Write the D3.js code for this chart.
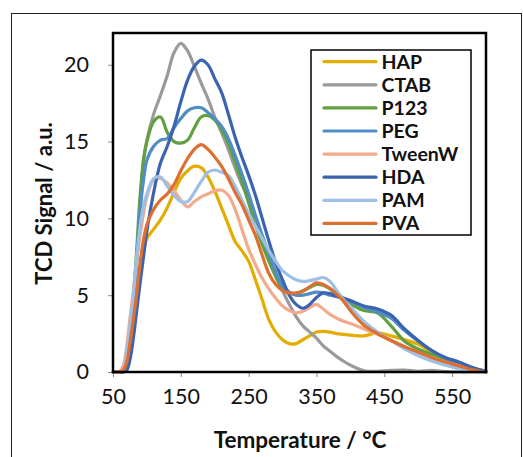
<!DOCTYPE html>
<html><head><meta charset="utf-8">
<script src="https://cdn.jsdelivr.net/npm/d3@7"></script>
<style>body{margin:0;background:#fff}svg{display:block}</style>
</head><body>
<svg id="c" width="523" height="457"></svg>
<script>
const temps = [50,60,65,70,75,80,85,90,95,100,110,120,130,140,150,160,170,180,190,200,210,220,230,240,250,260,270,280,290,300,310,320,330,340,350,360,370,380,390,400,420,440,460,480,500,520,540,560,580,600];
const HAP   = [0,0,0,0.2,1.0,2.5,4.5,6.5,7.8,8.7,9.3,9.9,10.7,11.7,12.6,13.1,13.4,13.3,12.7,11.8,10.7,9.6,8.5,7.9,7.2,6.0,4.7,3.4,2.6,2.1,1.85,1.85,2.1,2.35,2.6,2.65,2.6,2.5,2.45,2.4,2.35,2.55,2.35,2.1,1.8,1.3,0.85,0.5,0.2,0];
const CTAB  = [0,0,0.05,0.8,2.8,4.6,7.0,11.0,13.8,15.1,16.8,18.0,19.3,20.8,21.4,20.9,19.9,18.8,17.8,16.6,15.6,14.5,13.3,12.2,11.3,10.0,8.8,7.6,6.4,5.3,4.4,3.6,3.0,2.6,2.2,1.7,1.35,1.0,0.7,0.45,0.08,0.05,0.1,0.12,0.05,0.1,0.03,0,0,0];
const P123  = [0,0,0.05,0.7,2.5,4.8,8.0,11.5,13.8,15.0,16.3,16.6,15.6,15.0,14.9,15.1,15.9,16.6,16.7,16.4,15.8,14.9,13.7,12.4,11.0,9.6,8.3,7.2,6.2,5.4,5.15,5.1,5.3,5.5,5.7,5.65,5.4,5.1,4.8,4.45,4.0,3.85,3.0,2.0,1.5,1.15,0.85,0.55,0.25,0];
const PEG   = [0,0,0.05,0.6,2.2,4.4,7.5,10.5,12.5,13.8,14.7,15.1,15.2,15.9,16.5,17.0,17.2,17.2,16.9,16.5,16.0,15.2,14.1,12.9,11.6,10.2,8.9,7.7,6.5,5.6,5.2,5.0,5.0,5.1,5.2,5.15,5.0,4.9,4.75,4.6,4.2,3.9,3.5,2.7,2.0,1.4,0.9,0.55,0.25,0.05];
const TweenW= [0,0.05,0.4,1.6,3.5,5.3,7.3,8.9,10.3,11.4,12.5,12.6,12.3,11.8,11.2,10.75,11.1,11.4,11.6,11.8,11.85,11.5,10.6,9.3,8.0,7.0,6.1,5.4,4.8,4.3,4.0,3.85,3.95,4.2,4.4,4.1,3.75,3.5,3.3,3.15,2.8,2.45,2.05,1.65,1.2,0.9,0.65,0.4,0.15,0];
const HDA   = [0,0,0,0.1,0.8,2.2,4.0,5.8,7.5,9.2,11.7,13.6,14.7,16.0,17.6,19.0,19.9,20.3,20.0,19.1,18.2,16.8,15.3,14.0,12.8,11.5,10.0,8.5,7.1,6.0,5.0,4.4,4.15,4.4,4.85,5.15,5.1,4.95,4.8,4.65,4.3,4.1,3.7,2.8,2.05,1.4,0.95,0.65,0.3,0.05];
const PAM   = [0,0,0.1,1.2,3.0,5.0,7.5,9.5,10.8,11.6,12.6,12.7,12.1,11.5,11.1,11.1,11.7,12.4,13.0,13.15,13.0,12.8,12.1,11.2,10.3,9.5,8.7,7.9,7.2,6.6,6.25,6.0,5.9,5.95,6.05,6.15,5.9,5.3,4.7,4.25,3.3,2.6,2.05,1.5,1.05,0.72,0.45,0.22,0.05,0];
const PVA   = [0,0,0.1,0.6,1.9,3.4,5.1,7.1,8.6,9.6,10.6,11.2,11.6,12.2,13.1,13.9,14.5,14.8,14.5,14.0,13.4,12.6,11.7,10.9,9.9,8.9,7.6,6.4,5.7,5.3,5.15,5.15,5.25,5.55,5.8,5.7,5.45,5.05,4.6,4.0,3.05,2.5,2.05,1.65,1.3,0.95,0.65,0.4,0.15,0];
const seriesNames = ["HAP","CTAB","P123","PEG","TweenW","HDA","PAM","PVA"];
const seriesValues = [HAP,CTAB,P123,PEG,TweenW,HDA,PAM,PVA];
const colors = ["#E3AC00","#9A9A9A","#62A03F","#4F8DC4","#F4AA8C","#3C63B1","#9DC0E6","#DD7030"];
const xTicks = [50,150,250,350,450,550];
const yTicks = [0,5,10,15,20];

const svg = d3.select("#c");
const L=113, R=486, T=33, B=372;
const x = d3.scaleLinear().domain([50,600]).range([L,R]);
const y = d3.scaleLinear().domain([0,22.07]).range([B,T]);
const FONT = "Lato, 'Open Sans', sans-serif";

svg.append("rect").attr("x",11.5).attr("y",13.5).attr("width",510).attr("height",500)
  .attr("fill","none").attr("stroke","#222").attr("stroke-width",1);

// axes
const xa = svg.append("g").attr("transform",`translate(0,${B})`)
  .call(d3.axisBottom(x).tickValues(xTicks).tickSize(5).tickPadding(12));
const ya = svg.append("g").attr("transform",`translate(${L},0)`)
  .call(d3.axisLeft(y).tickValues(yTicks).tickSize(5).tickPadding(19));
[xa,ya].forEach(g=>{
  g.select(".domain").remove();
  g.selectAll("line").attr("stroke","#888");
  g.selectAll("text").attr("font-family",FONT).attr("font-size",21.5).attr("fill","#111");
});

const line = d3.line().x((d,i)=>x(temps[i])).y(d=>y(d)).curve(d3.curveCatmullRom.alpha(0.5));
seriesValues.forEach((vals,k)=>{
  svg.append("path").datum(vals).attr("d",line).attr("fill","none")
    .attr("stroke",colors[k]).attr("stroke-width",3.2).attr("stroke-linejoin","round").attr("stroke-linecap","round");
});

svg.append("rect").attr("x",L).attr("y",T).attr("width",R-L).attr("height",B-T)
  .attr("fill","none").attr("stroke","#000").attr("stroke-width",2.5);

// legend
const lg = svg.append("g");
lg.append("rect").attr("x",311).attr("y",50).attr("width",160).attr("height",185)
  .attr("fill","#fff").attr("stroke","#000").attr("stroke-width",1.5);
seriesNames.forEach((n,k)=>{
  const yy = 61.7 + k*23.1;
  lg.append("line").attr("x1",324).attr("x2",376).attr("y1",yy).attr("y2",yy)
    .attr("stroke",colors[k]).attr("stroke-width",3.2).attr("stroke-linecap","round");
  lg.append("text").attr("x",381.5).attr("y",yy+6.8).text(n)
    .attr("font-family",FONT).attr("font-weight","bold").attr("font-size",19.5).attr("fill","#111");
});

svg.append("text").attr("x",300).attr("y",448).attr("text-anchor","middle")
  .attr("font-family",FONT).attr("font-weight","bold").attr("font-size",22.5).attr("fill","#111")
  .text("Temperature / °C");
svg.append("text").attr("transform","translate(52,203.5) rotate(-90)").attr("text-anchor","middle")
  .attr("font-family",FONT).attr("font-weight","bold").attr("font-size",22).attr("fill","#111")
  .text("TCD Signal / a.u.");
</script>
</body></html>
